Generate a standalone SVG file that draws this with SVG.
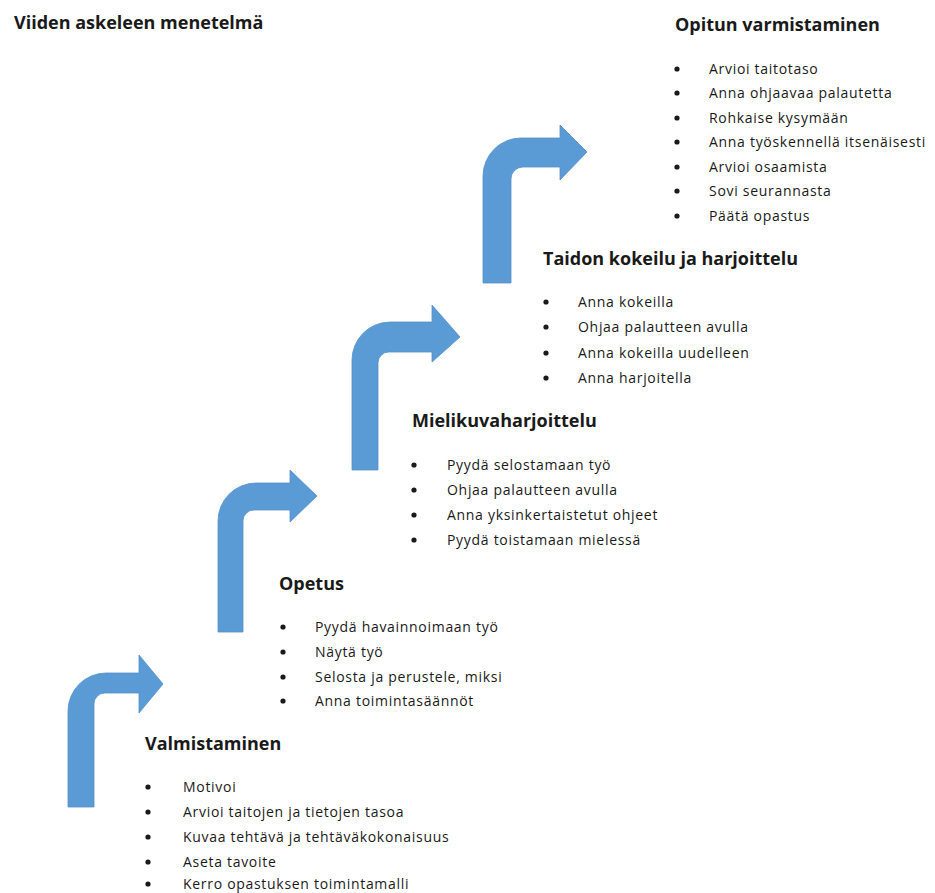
<svg xmlns="http://www.w3.org/2000/svg" width="935" height="893" viewBox="0 0 935 893">
<style>
.arrow{fill:#5B9BD5;stroke:#5590c8;stroke-width:0.8}
.h{font-family:"Open Sans","Liberation Sans",Arial,sans-serif;font-weight:bold;font-size:18px;fill:#1a1a1a}
.t{font-family:"Open Sans","Liberation Sans",Arial,sans-serif;font-size:14px;letter-spacing:0.7px;fill:#1a1a1a}
.b{fill:#1a1a1a}
</style>
<rect width="935" height="893" fill="#ffffff"/>
<text class="h" x="14" y="29">Viiden askeleen menetelmä</text>
<g id="connectors">
<path class="arrow" d="M68,807 V711 A38,38 0 0 1 106,673 H139 V655 L163,684 L139,713 V693 H105 A11,11 0 0 0 94,704 V807 Z"/>
<path class="arrow" d="M218,632 V521 A38,38 0 0 1 256,483 H290 V470 L317,496 L290,522 V510 H254 A11,11 0 0 0 243,521 V632 Z"/>
<path class="arrow" d="M352,470 V360 A38,38 0 0 1 390,322 H432 V305 L460,337 L432,362 V352 H389 A11,11 0 0 0 378,363 V470 Z"/>
<path class="arrow" d="M483,283 V176 A38,38 0 0 1 521,138 H560 V125 L587,152 L560,180 V167 H523 A12,12 0 0 0 511,179 V283 Z"/>
</g>
<g id="step1">
<text class="h" x="145" y="750">Valmistaminen</text>
<circle class="b" cx="148" cy="787" r="2.6"/><text class="t" x="183" y="792">Motivoi</text>
<circle class="b" cx="148" cy="812" r="2.6"/><text class="t" x="183" y="817">Arvioi taitojen ja tietojen tasoa</text>
<circle class="b" cx="148" cy="837" r="2.6"/><text class="t" x="183" y="842">Kuvaa tehtävä ja tehtäväkokonaisuus</text>
<circle class="b" cx="148" cy="862" r="2.6"/><text class="t" x="183" y="867">Aseta tavoite</text>
<circle class="b" cx="148" cy="884" r="2.6"/><text class="t" x="183" y="889">Kerro opastuksen toimintamalli</text>
</g>
<g id="step2">
<text class="h" x="279" y="590">Opetus</text>
<circle class="b" cx="283" cy="627" r="2.6"/><text class="t" x="315" y="632">Pyydä havainnoimaan työ</text>
<circle class="b" cx="283" cy="652" r="2.6"/><text class="t" x="315" y="657">Näytä työ</text>
<circle class="b" cx="283" cy="677" r="2.6"/><text class="t" x="315" y="682">Selosta ja perustele, miksi</text>
<circle class="b" cx="283" cy="701" r="2.6"/><text class="t" x="315" y="706">Anna toimintasäännöt</text>
</g>
<g id="step3">
<text class="h" x="412" y="427">Mielikuvaharjoittelu</text>
<circle class="b" cx="414" cy="465" r="2.6"/><text class="t" x="447" y="470">Pyydä selostamaan työ</text>
<circle class="b" cx="414" cy="490" r="2.6"/><text class="t" x="447" y="495">Ohjaa palautteen avulla</text>
<circle class="b" cx="414" cy="515" r="2.6"/><text class="t" x="447" y="520">Anna yksinkertaistetut ohjeet</text>
<circle class="b" cx="414" cy="540" r="2.6"/><text class="t" x="447" y="545">Pyydä toistamaan mielessä</text>
</g>
<g id="step4">
<text class="h" x="543" y="265">Taidon kokeilu ja harjoittelu</text>
<circle class="b" cx="546" cy="302" r="2.6"/><text class="t" x="578" y="307">Anna kokeilla</text>
<circle class="b" cx="546" cy="327" r="2.6"/><text class="t" x="578" y="332">Ohjaa palautteen avulla</text>
<circle class="b" cx="546" cy="353" r="2.6"/><text class="t" x="578" y="358">Anna kokeilla uudelleen</text>
<circle class="b" cx="546" cy="378" r="2.6"/><text class="t" x="578" y="383">Anna harjoitella</text>
</g>
<g id="step5">
<text class="h" x="675" y="31">Opitun varmistaminen</text>
<circle class="b" cx="677" cy="69" r="2.6"/><text class="t" x="709" y="74">Arvioi taitotaso</text>
<circle class="b" cx="677" cy="93" r="2.6"/><text class="t" x="709" y="98">Anna ohjaavaa palautetta</text>
<circle class="b" cx="677" cy="118" r="2.6"/><text class="t" x="709" y="123">Rohkaise kysymään</text>
<circle class="b" cx="677" cy="142" r="2.6"/><text class="t" x="709" y="147">Anna työskennellä itsenäisesti</text>
<circle class="b" cx="677" cy="167" r="2.6"/><text class="t" x="709" y="172">Arvioi osaamista</text>
<circle class="b" cx="677" cy="191" r="2.6"/><text class="t" x="709" y="196">Sovi seurannasta</text>
<circle class="b" cx="677" cy="216" r="2.6"/><text class="t" x="709" y="221">Päätä opastus</text>
</g>
</svg>
